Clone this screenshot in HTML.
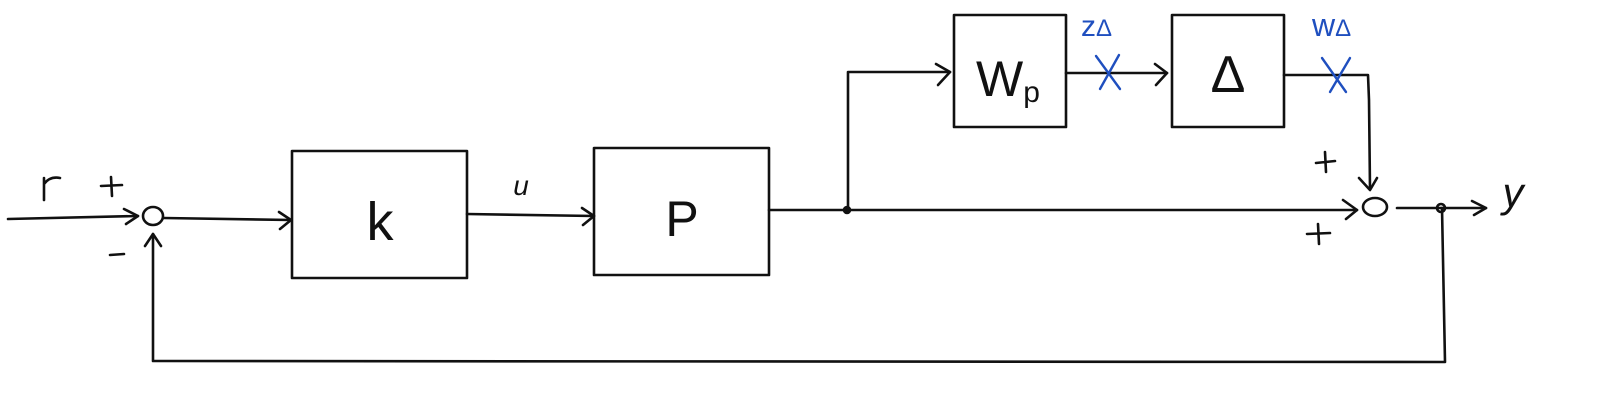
<!DOCTYPE html>
<html><head><meta charset="utf-8"><style>
html,body{margin:0;padding:0;background:#fff;}
svg{display:block;}
text{font-family:"Liberation Sans",sans-serif;}
</style></head><body>
<svg width="1608" height="402" viewBox="0 0 1608 402" xmlns="http://www.w3.org/2000/svg">
<g fill="none" stroke="#111" stroke-width="2.6" stroke-linecap="round" stroke-linejoin="round">
<path d="M8 219 L138 216"/>
<path d="M124 209 L138 216 L126 224"/>
<ellipse cx="153" cy="216" rx="10" ry="9"/>
<path d="M164 218 L291 220"/>
<path d="M279 212 L291 220 L280 229"/>
<rect x="292" y="151" width="175" height="127"/>
<path d="M467 214 L594 216"/>
<path d="M582 208 L594 216 L583 225"/>
<rect x="594" y="148" width="175" height="127"/>
<path d="M769 210 L1357 210"/>
<path d="M1343 200 L1357 210 L1346 219"/>
<circle cx="847" cy="210" r="3" fill="#111"/>
<path d="M848 210 L848 72 L950 72"/>
<path d="M936 64 L950 72 L938 85"/>
<rect x="954" y="15" width="112" height="112"/>
<path d="M1066 73 L1167 73"/>
<path d="M1155 64 L1167 73 L1156 85"/>
<rect x="1172" y="15" width="112" height="112"/>
<path d="M1284 75 L1368 75 L1369 100 L1370 188"/>
<path d="M1359 178 L1370 190 L1377 178"/>
<ellipse cx="1375" cy="207" rx="12" ry="9"/>
<path d="M1397 208 L1486 208"/>
<path d="M1472 201 L1486 208 L1474 215"/>
<circle cx="1441" cy="208" r="4"/>
<path d="M1442 208 L1445 362 L153 361 L153 234"/>
<path d="M145 246 L153 234 L161 246"/>
<path d="M44 200 L44 178 M44 184 Q50 176 60 178"/>
<path d="M101 186 L122 185 M111 177 L112 196"/>
<path d="M110 255 L124 254"/>
<path d="M1316 163 L1335 161 M1325 152 L1326 172"/>
<path d="M1307 234 L1330 233 M1318 224 L1319 244"/>
</g>
<text x="380" y="240" font-size="54" text-anchor="middle" fill="#111" font-weight="300">k</text>
<text x="682" y="236" font-size="50" text-anchor="middle" fill="#111">P</text>
<text x="521" y="195" font-size="28" text-anchor="middle" fill="#111" font-style="italic">u</text>
<text x="1008" y="96" font-size="50" text-anchor="middle" fill="#111">W<tspan font-size="30" dy="6">p</tspan></text>
<text x="1228" y="92" font-size="52" text-anchor="middle" fill="#111">Δ</text>
<text x="1513" y="207" font-size="42" text-anchor="middle" fill="#111" font-style="italic">y</text>
<g stroke="#1f4fbf" stroke-width="2.4" fill="none" stroke-linecap="round">
<path d="M1096 56 L1120 89 M1119 55 L1100 89"/>
<path d="M1322 58 L1346 92 M1350 58 L1330 92"/>
</g>
<text x="1081" y="36" font-size="30" fill="#1f4fbf">z<tspan font-size="24">Δ</tspan></text>
<text x="1312" y="36" font-size="32" fill="#1f4fbf">w<tspan font-size="24">Δ</tspan></text>
</svg>
</body></html>
